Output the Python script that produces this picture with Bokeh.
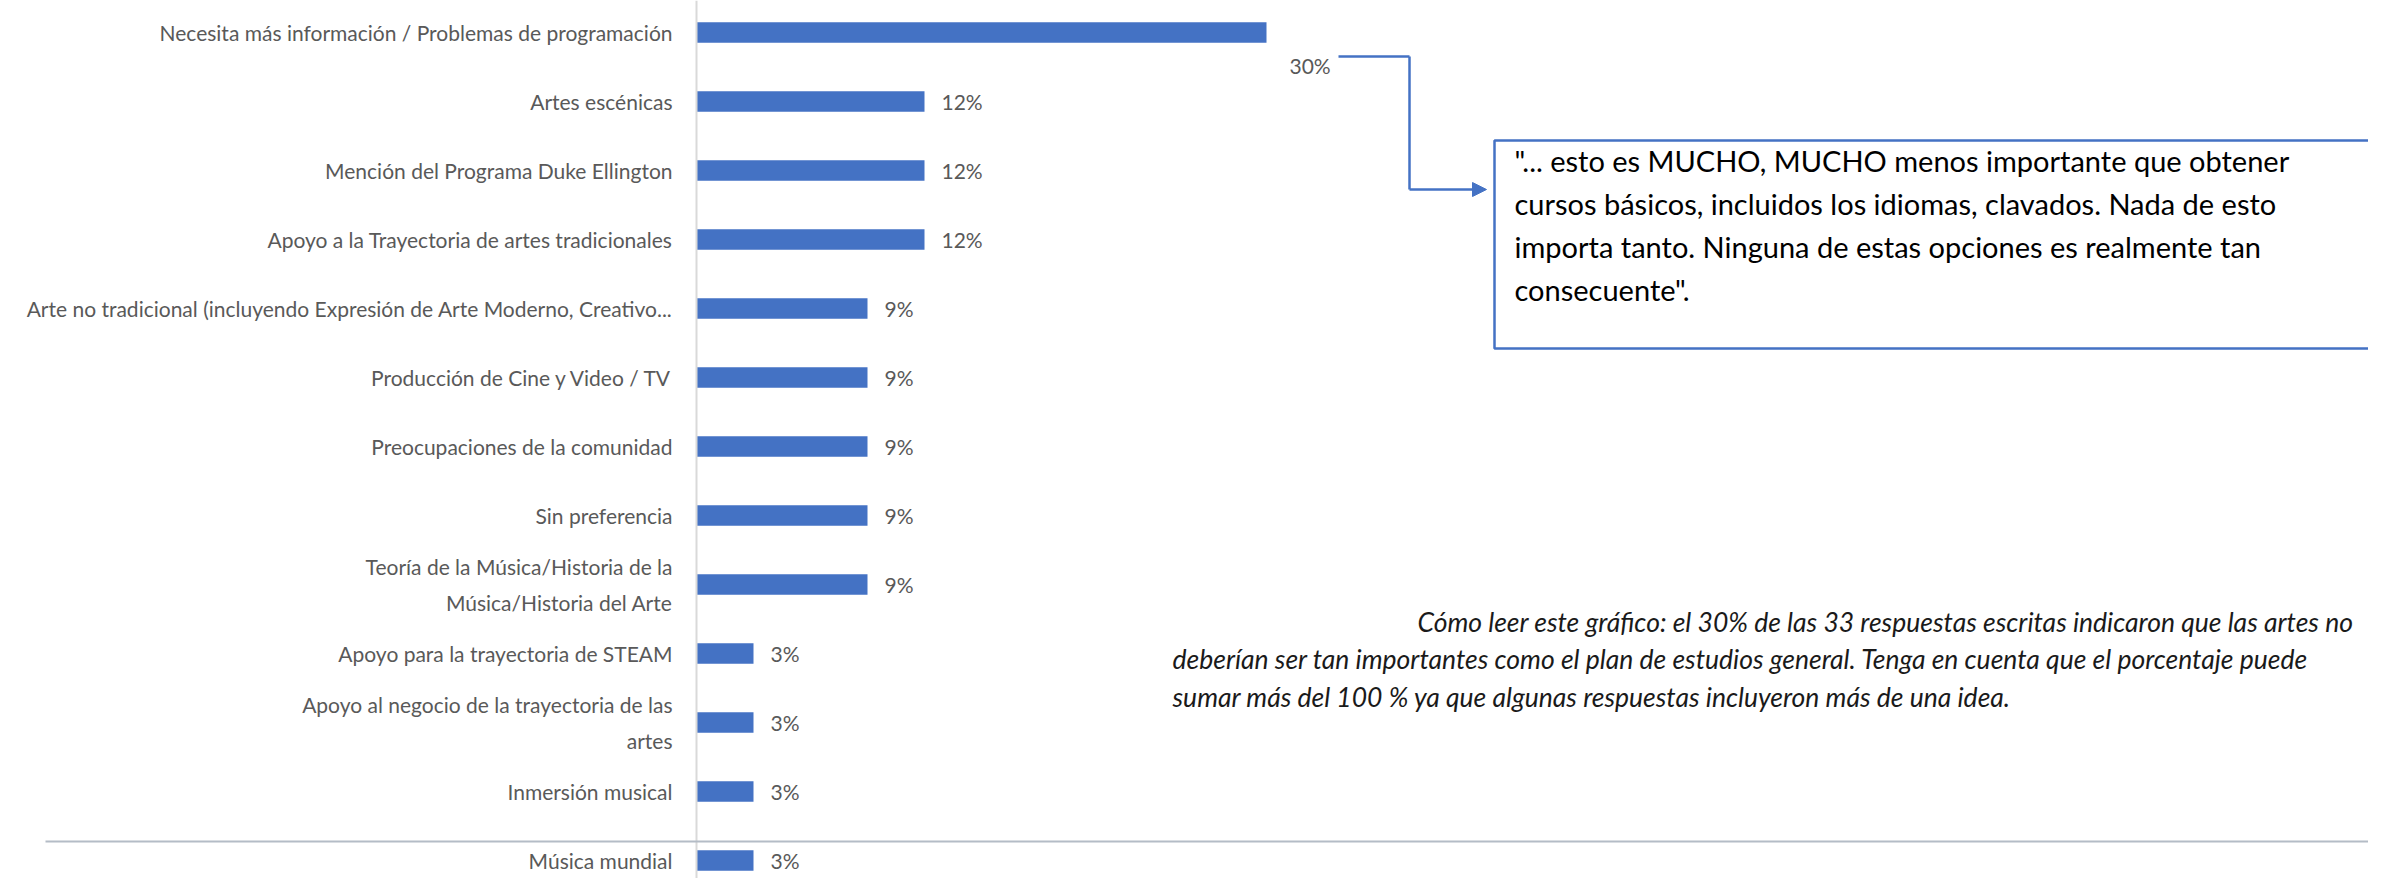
from bokeh.plotting import figure
from bokeh.models import Range1d, Span, BoxAnnotation, Label, Arrow, NormalHead, ColumnDataSource
from bokeh.core.properties import value
from bokeh.embed import file_html
from bokeh.resources import INLINE

# ---------------- data ----------------
categories = [
    "Necesita más información / Problemas de programación",
    "Artes escénicas",
    "Mención del Programa Duke Ellington",
    "Apoyo a la Trayectoria de artes tradicionales",
    "Arte no tradicional (incluyendo Expresión de Arte Moderno, Creativo...",
    "Producción de Cine y Video / TV",
    "Preocupaciones de la comunidad",
    "Sin preferencia",
    "Teoría de la Música/Historia de la\nMúsica/Historia del Arte",
    "Apoyo para la trayectoria de STEAM",
    "Apoyo al negocio de la trayectoria de las\nartes",
    "Inmersión musical",
    "Música mundial",
]
percentages = [30, 12, 12, 12, 9, 9, 9, 9, 9, 3, 3, 3, 3]
value_labels = [f"{v}%" for v in percentages]

quote_lines = [
    '"... esto es MUCHO, MUCHO menos importante que obtener',
    'cursos básicos, incluidos los idiomas, clavados. Nada de esto',
    'importa tanto. Ninguna de estas opciones es realmente tan',
    'consecuente".',
]
note_lines = [
    "Cómo leer este gráfico: el 30% de las 33 respuestas escritas indicaron que las artes no",
    "deberían ser tan importantes como el plan de estudios general. Tenga en cuenta que el porcentaje puede",
    "sumar más del 100 % ya que algunas respuestas incluyeron más de una idea.",
]

# ---------------- geometry ----------------
W, H = 2368, 878
PX_PER_PCT = 19.0
X0_PX = 696          # figure px of 0 %
ROW_PX = 69.0
ROW0_PX = 32.0       # figure px of first row centre


def xd(px_page):
    return (px_page - 8 - X0_PX) / PX_PER_PCT


def yd(py_page):
    return (py_page - 8 - ROW0_PX) / ROW_PX


FONT = "Lato"
BLUE = "#4472C4"

p = figure(
    width=W, height=H,
    x_range=Range1d(xd(8), xd(8 + W)),
    y_range=Range1d(yd(8 + H), yd(8)),
    output_backend="svg", toolbar_location=None,
    x_axis_location=None, y_axis_location=None,
    min_border=0,
)
p.grid.visible = False
p.outline_line_color = None
p.background_fill_color = "white"

idx = list(range(len(categories)))
maxv = max(percentages)
src = ColumnDataSource(dict(
    y=idx, v=percentages, cat=categories, lab=value_labels,
    yoff=[33 if v == maxv else 0 for v in percentages],
    xoff=[23 if v == maxv else 17 for v in percentages],
))

# axis line
p.add_layout(Span(location=0, dimension="height", line_color="#D9D9D9", line_width=2))

p.hbar(y="y", left=0, right="v", height=0.3, source=src, color=BLUE, line_color=None)

p.text(x=0, y="y", text="cat", source=src, x_offset=-24,
       text_align="right", text_baseline="middle",
       text_font=value(FONT), text_font_size="21px", text_color="#595959",
       text_line_height=1.45)

p.text(x="v", y="y", text="lab", source=src, x_offset="xoff", y_offset="yoff",
       text_align="left", text_baseline="middle",
       text_font=value(FONT), text_font_size="21px", text_color="#595959")

# callout connector
conn = dict(line_color=BLUE, line_width=2.5)
p.add_layout(Arrow(end=None, x_start=xd(1346), y_start=yd(64), x_end=xd(1417), y_end=yd(64), **conn))
p.add_layout(Arrow(end=None, x_start=xd(1417), y_start=yd(64), x_end=xd(1417), y_end=yd(197), **conn))
p.add_layout(Arrow(end=NormalHead(size=14, fill_color=BLUE, line_color=BLUE),
                   x_start=xd(1417), y_start=yd(197), x_end=xd(1494), y_end=yd(197), **conn))

# callout box (runs off the right edge, as in the reference)
p.add_layout(BoxAnnotation(left=xd(1502), right=xd(2700), top=yd(148), bottom=yd(356),
                           fill_color=None, fill_alpha=0, line_color=BLUE, line_alpha=1.0,
                           line_width=2.5))
for i, t in enumerate(quote_lines):
    p.add_layout(Label(x=xd(1522), y=yd(168 + i * 43), text=t,
                       text_baseline="middle", text_align="left",
                       text_font=FONT, text_font_size="29px", text_color="#000000"))

# reading note
for i, t in enumerate(note_lines):
    x_px = 1425 if i == 0 else 1180
    p.add_layout(Label(x=xd(x_px), y=yd(629 + i * 37.5), text=t,
                       text_baseline="middle", text_align="left",
                       text_font=FONT, text_font_size="26.5px", text_font_style="italic",
                       text_color="#1a1a1a"))

# footer rule
p.add_layout(Arrow(end=None, x_start=xd(53), y_start=yd(849), x_end=xd(2700), y_end=yd(849),
                   line_color="#B4BCC6", line_width=2))

open("out.html", "w").write(file_html(p, INLINE))
